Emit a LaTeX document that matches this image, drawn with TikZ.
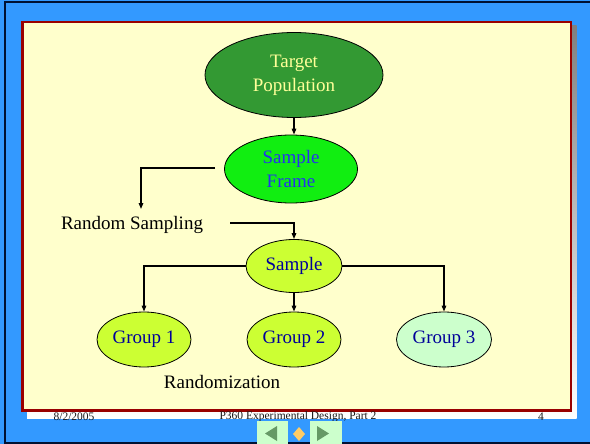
\documentclass[tikz,border=0pt]{standalone}
\usepackage{fontspec}
\setmainfont{Liberation Serif}
\usetikzlibrary{shapes.geometric,arrows.meta}
\definecolor{bgblue}{HTML}{3399FF}
\definecolor{navy}{HTML}{001133}
\definecolor{paper}{HTML}{FFFFCC}
\definecolor{frame}{HTML}{990000}
\definecolor{shade}{HTML}{666633}
\definecolor{darkgreen}{HTML}{339933}
\definecolor{lightyellow}{HTML}{FFFF99}
\definecolor{brightgreen}{HTML}{11EE11}
\definecolor{lime}{HTML}{CCFF33}
\definecolor{mint}{HTML}{CCFFCC}
\definecolor{txtblue}{HTML}{2233EE}
\definecolor{txtdark}{HTML}{000099}
\definecolor{navbtn}{HTML}{CCFFCC}
\definecolor{navarrow}{HTML}{669966}
\definecolor{navdiamond}{HTML}{FFCC66}
\tikzset{
  oval/.style={ellipse, draw=black, line width=0.8pt, inner sep=0pt, align=center,
    font=\fontsize{19}{24}\selectfont},
  lbl/.style={font=\fontsize{19}{24}\selectfont, inner sep=0pt},
  conn/.style={line width=1.4pt, -{Triangle[length=6pt,width=4.5pt]}},
  foot/.style={font=\fontsize{11.5}{13}\selectfont, text=black!90, inner sep=0pt},
}
\begin{document}
\begin{tikzpicture}[x=1pt,y=-1pt]
\useasboundingbox (0,0) rectangle (590,444);
% background
\fill[bgblue] (0,0) rectangle (590,444);
\draw[navy, line width=2pt] (5,2.5) rectangle (594,442.5);
% shadow and slide panel
\fill[shade] (27,26) rectangle (576.5,418);
\draw[frame, fill=paper, line width=2.5pt] (22.5,22) rectangle (571,410.5);
% nodes
\node[oval, fill=darkgreen, text=lightyellow, minimum width=178pt, minimum height=85pt] (tp) at (294,75) {Target\\Population};
\node[oval, fill=brightgreen, text=txtblue, minimum width=133pt, minimum height=68pt] (sf) at (291,169) {Sample\\Frame};
\node[lbl] (rs) at (132,225) {Random Sampling};
\node[oval, fill=lime, text=txtdark, minimum width=96pt, minimum height=53pt] (s) at (294,266) {Sample};
\node[oval, fill=lime, text=txtdark, minimum width=94pt, minimum height=55pt] (g1) at (144,339.5) {Group 1};
\node[oval, fill=lime, text=txtdark, minimum width=94pt, minimum height=55pt] (g2) at (294,339.5) {Group 2};
\node[oval, fill=mint, text=txtdark, minimum width=95pt, minimum height=55pt] (g3) at (444,339.5) {Group 3};
\node[lbl] (rz) at (222,382) {Randomization};
% connectors
\coordinate (sfout) at (215,168);
\coordinate (rsdrop) at (141,209);
\coordinate (rsout) at (230,223);
\draw[conn] (tp.south) -- (tp.south |- sf.north);
\draw[conn] (sfout) -| (rsdrop);
\draw[conn] (rsout) -| (s.north);
\draw[conn] (s.west) -| (g1.north);
\draw[conn] (s.south) -- (g2.north);
\draw[conn] (s.east) -| (g3.north);
% footer
\node[foot] (date) at (74,417) {8/2/2005};
\node[foot] (title) at (298,417) {P360 Experimental Design, Part 2};
\node[foot] (num) at (541,417) {4};
% navigation buttons
\fill[navbtn] (257,421) rectangle (288,444);
\fill[navarrow] (265,433.5) -- (277,426) -- (277,441) -- cycle;
\fill[navdiamond] (299,427) -- (305,434) -- (299,441) -- (293,434) -- cycle;
\fill[navbtn] (310,421) rectangle (342,444);
\fill[navarrow] (329,433.5) -- (317,426) -- (317,441) -- cycle;
\end{tikzpicture}
\end{document}
